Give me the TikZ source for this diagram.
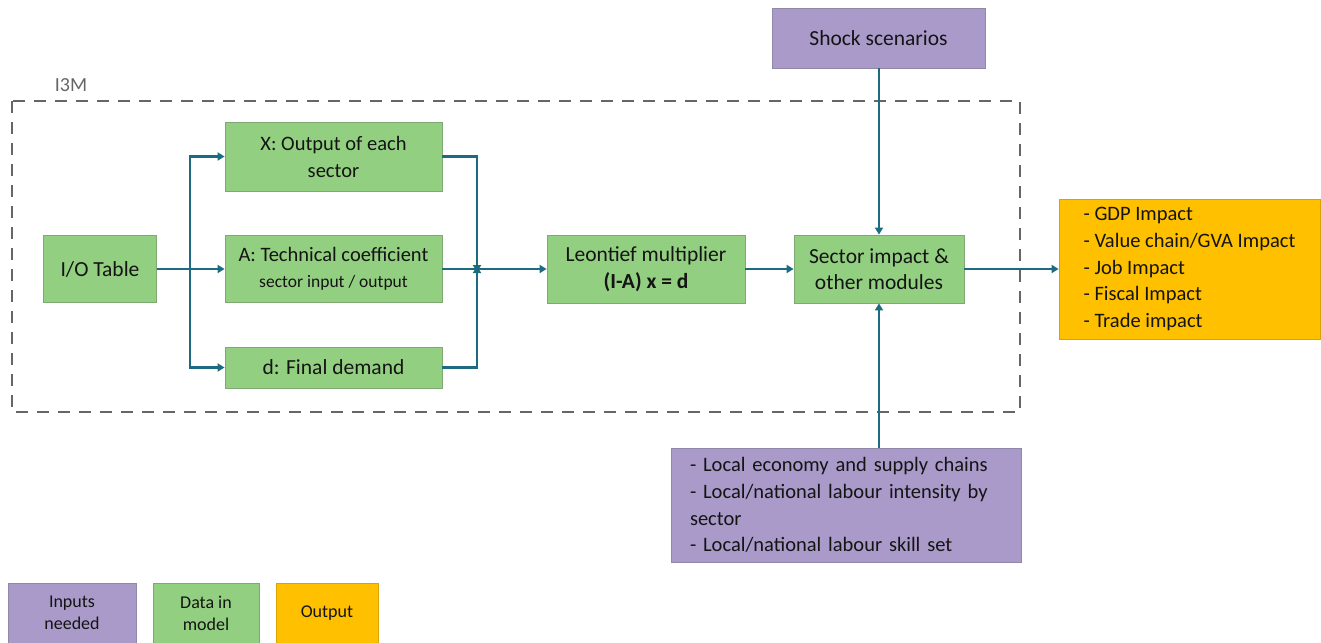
\documentclass[tikz,border=0pt]{standalone}
\usepackage{fontspec}
\setmainfont{Carlito}
\usetikzlibrary{arrows.meta}
\definecolor{gfill}{HTML}{93CF80}
\definecolor{gdraw}{HTML}{7FA873}
\definecolor{pfill}{HTML}{A99AC9}
\definecolor{pdraw}{HTML}{9088A8}
\definecolor{yfill}{HTML}{FFC000}
\definecolor{teal}{HTML}{1C6B80}
\definecolor{txt}{HTML}{141414}
\begin{document}
\begin{tikzpicture}[x=1pt,y=-1pt,
  box/.style={draw, line width=0.8pt, inner sep=0pt, align=center, text=txt,
    font=\fontsize{21.5}{26.5}\selectfont},
  gbox/.style={box, fill=gfill, draw=gdraw},
  pbox/.style={box, fill=pfill, draw=pdraw},
  ybox/.style={box, fill=yfill, draw=yfill!85!black},
  listtext/.style={align=left, font=\fontsize{20.5}{26.8}\selectfont},
  arr/.style={draw=teal, line width=2.2pt, -{Triangle[width=8pt,length=7pt]}},
  legend/.style={font=\fontsize{18}{22}\selectfont}]
\useasboundingbox (0,0) rectangle (1321,642);
% dashed model boundary
\draw[draw=black!60, line width=1.8pt, dash pattern=on 12pt off 9pt] (12,101) rectangle (1020,412);
\node[text=black!60, font=\fontsize{20}{24}\selectfont] (i3m) at (71,85) {I3M};
% nodes
\node[gbox, minimum width=113pt, minimum height=67pt] (io) at (100,269) {I/O Table};
\node[gbox, minimum width=217pt, minimum height=69pt, font=\fontsize{20.5}{27}\selectfont] (X) at (333.5,156.5) {X: Output of each\\sector};
\node[gbox, minimum width=217pt, minimum height=67pt, font=\fontsize{20.5}{25.5}\selectfont] (A) at (333.5,269) {A: Technical coefficient\\{\fontsize{17.5}{25.5}\selectfont sector input / output}};
\node[gbox, minimum width=217pt, minimum height=41pt] (d) at (333.5,367.5) {d: Final demand};
\node[gbox, minimum width=198pt, minimum height=68pt] (leo) at (646,269) {Leontief multiplier\\\textbf{(I-A) x = d}};
\node[gbox, minimum width=170pt, minimum height=68pt] (sec) at (879,269) {Sector impact \&\\other modules};
\node[pbox, minimum width=213pt, minimum height=60pt] (shock) at (878.5,38) {Shock scenarios};
\node[pbox, listtext, text width=312pt, inner xsep=19pt, minimum height=114pt] (inp) at (846,505)
  {- Local economy and supply chains\\- Local/national labour intensity by\\sector\\- Local/national labour skill set};
\node[ybox, listtext, minimum width=261pt, minimum height=140pt] (out) at (1189.5,269)
  {- GDP Impact\\- Value chain/GVA Impact\\- Job Impact\\- Fiscal Impact\\- Trade impact};
% legend
\node[pbox, legend, minimum width=128pt, minimum height=60pt] (l1) at (72,613) {Inputs\\needed};
\node[gbox, legend, minimum width=106pt, minimum height=60pt] (l2) at (206,613) {Data in\\model};
\node[ybox, legend, minimum width=102pt, minimum height=60pt] (l3) at (327,613) {Output};
% connectors
\coordinate (split) at (190,269);
\coordinate (merge) at (477,269);
\draw[arr] (io.east) -- (A.west);
\draw[arr] (split) |- (X.west);
\draw[arr] (split) |- (d.west);
\draw[arr] (X.east) -| ([yshift=-3pt]merge);
\draw[arr] (d.east) -| ([yshift=3pt]merge);
\draw[arr] (A.east) -- (leo.west);
\draw[arr] (leo.east) -- (sec.west);
\draw[arr] (sec.north |- shock.south) -- (sec.north);
\draw[arr] (sec.south |- inp.north) -- (sec.south);
\draw[arr] (sec.east) -- (out.west);
\end{tikzpicture}
\end{document}
